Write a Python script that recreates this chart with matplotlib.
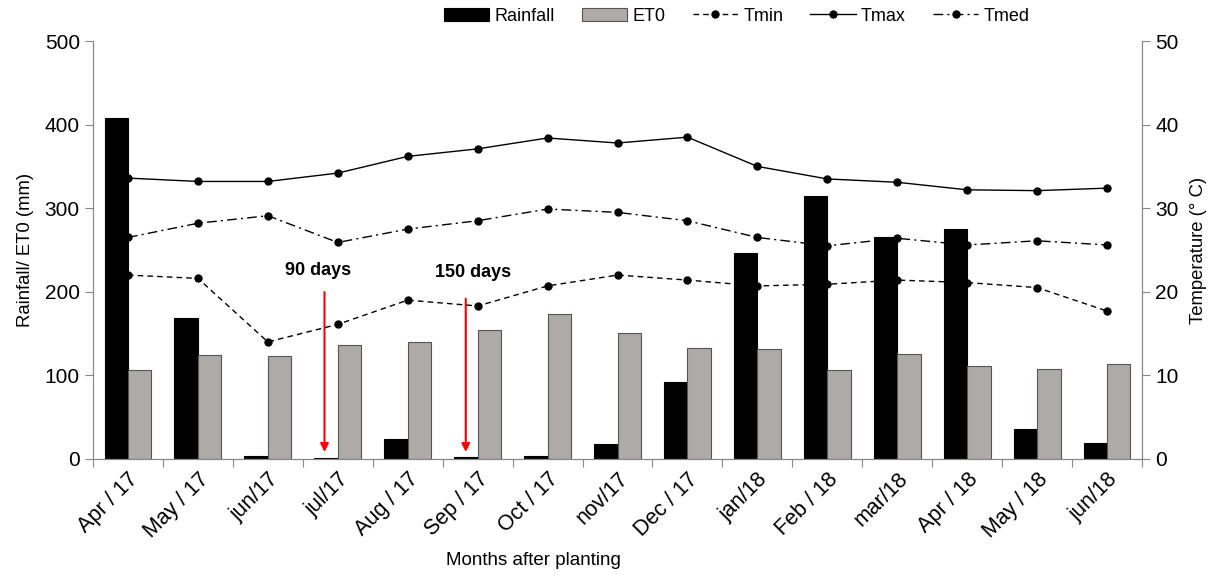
import numpy as np
import matplotlib.pyplot as plt
from matplotlib.ticker import FixedLocator

plt.rcParams['font.family'] = ['Liberation Sans', 'DejaVu Sans']

# data
months = ['Apr / 17', 'May / 17', 'jun/17', 'jul/17', 'Aug / 17', 'Sep / 17', 'Oct / 17',
          'nov/17', 'Dec / 17', 'jan/18', 'Feb / 18', 'mar/18', 'Apr / 18', 'May / 18', 'jun/18']
rainfall = [408, 169, 4, 1, 24, 2, 3, 18, 92, 246, 314, 266, 275, 36, 19]
et0 = [107, 124, 123, 136, 140, 154, 173, 151, 133, 131, 106, 126, 111, 108, 113]
tmin = [22.0, 21.6, 14.0, 16.1, 19.0, 18.3, 20.7, 22.0, 21.4, 20.7, 20.9, 21.4, 21.1, 20.5, 17.7]
tmax = [33.6, 33.2, 33.2, 34.2, 36.2, 37.1, 38.4, 37.8, 38.5, 35.0, 33.5, 33.1, 32.2, 32.1, 32.4]
tmed = [26.5, 28.2, 29.1, 25.9, 27.5, 28.5, 29.9, 29.5, 28.5, 26.5, 25.5, 26.4, 25.6, 26.1, 25.6]

x = np.arange(len(months))
w = 0.335
axcol = '#888888'

fig = plt.figure(figsize=(12.24, 5.78), dpi=100)
ax = fig.add_axes([0.076, 0.206, 0.857, 0.723])
ax2 = ax.twinx()

b1 = ax.bar(x - w / 2, rainfall, w, color='black', edgecolor='black', linewidth=0.8, label='Rainfall')
b2 = ax.bar(x + w / 2, et0, w, color='#aeaaa9', edgecolor='#555555', linewidth=0.8, label='ET0')

l1, = ax2.plot(x, tmin, color='black', lw=1, ls=(0, (4, 3)), marker='o', ms=5, label='Tmin')
l2, = ax2.plot(x, tmax, color='black', lw=1, ls='-', marker='o', ms=5, label='Tmax')
l3, = ax2.plot(x, tmed, color='black', lw=1, ls=(0, (7, 3, 1.5, 3)), marker='o', ms=5, label='Tmed')

ax.set_xlim(-0.5, len(months) - 0.5)
ax.set_ylim(0, 500)
ax2.set_ylim(0, 50)
ax.set_yticks(range(0, 501, 100))
ax2.set_yticks(range(0, 51, 10))

# ticks between categories, labels at centres
ax.xaxis.set_major_locator(FixedLocator(np.arange(-0.5, len(months), 1)))
ax.set_xticklabels([])
ax.xaxis.set_minor_locator(FixedLocator(x))
ax.set_xticklabels(months, minor=True, rotation=45, ha='right', rotation_mode='anchor', fontsize=15.5)
ax.tick_params(axis='x', which='minor', length=0, pad=7)
ax.tick_params(axis='x', which='major', length=6, color=axcol)

for a in (ax, ax2):
    a.spines['top'].set_visible(False)
    for s in ('left', 'right', 'bottom'):
        a.spines[s].set_color(axcol)
    a.tick_params(axis='y', length=6, color=axcol, labelsize=15)

ax.set_ylabel('Rainfall/ ET0 (mm)', fontsize=13.3, labelpad=8)
ax2.set_ylabel('Temperature (° C)', fontsize=13.3, labelpad=8)
ax.set_xlabel('Months after planting', fontsize=13.5)
ax.xaxis.set_label_coords(0.42, -0.222)

# planting markers
ax.annotate('', xy=(2.81, 5), xytext=(2.81, 203),
            arrowprops=dict(arrowstyle='-|>', color='red', lw=1.5, mutation_scale=12))
ax.text(2.72, 226, '90 days', fontsize=13, fontweight='bold', ha='center', va='center')
ax.annotate('', xy=(4.83, 5), xytext=(4.83, 195),
            arrowprops=dict(arrowstyle='-|>', color='red', lw=1.5, mutation_scale=12))
ax.text(4.93, 223, '150 days', fontsize=13, fontweight='bold', ha='center', va='center')

fig.legend(handles=[b1, b2, l1, l2, l3], loc='center', bbox_to_anchor=(0.602, 0.972),
           ncol=5, frameon=False, fontsize=13, handlelength=2.5, columnspacing=1.5,
           handletextpad=0.3)

plt.savefig('out.png', dpi=100)
